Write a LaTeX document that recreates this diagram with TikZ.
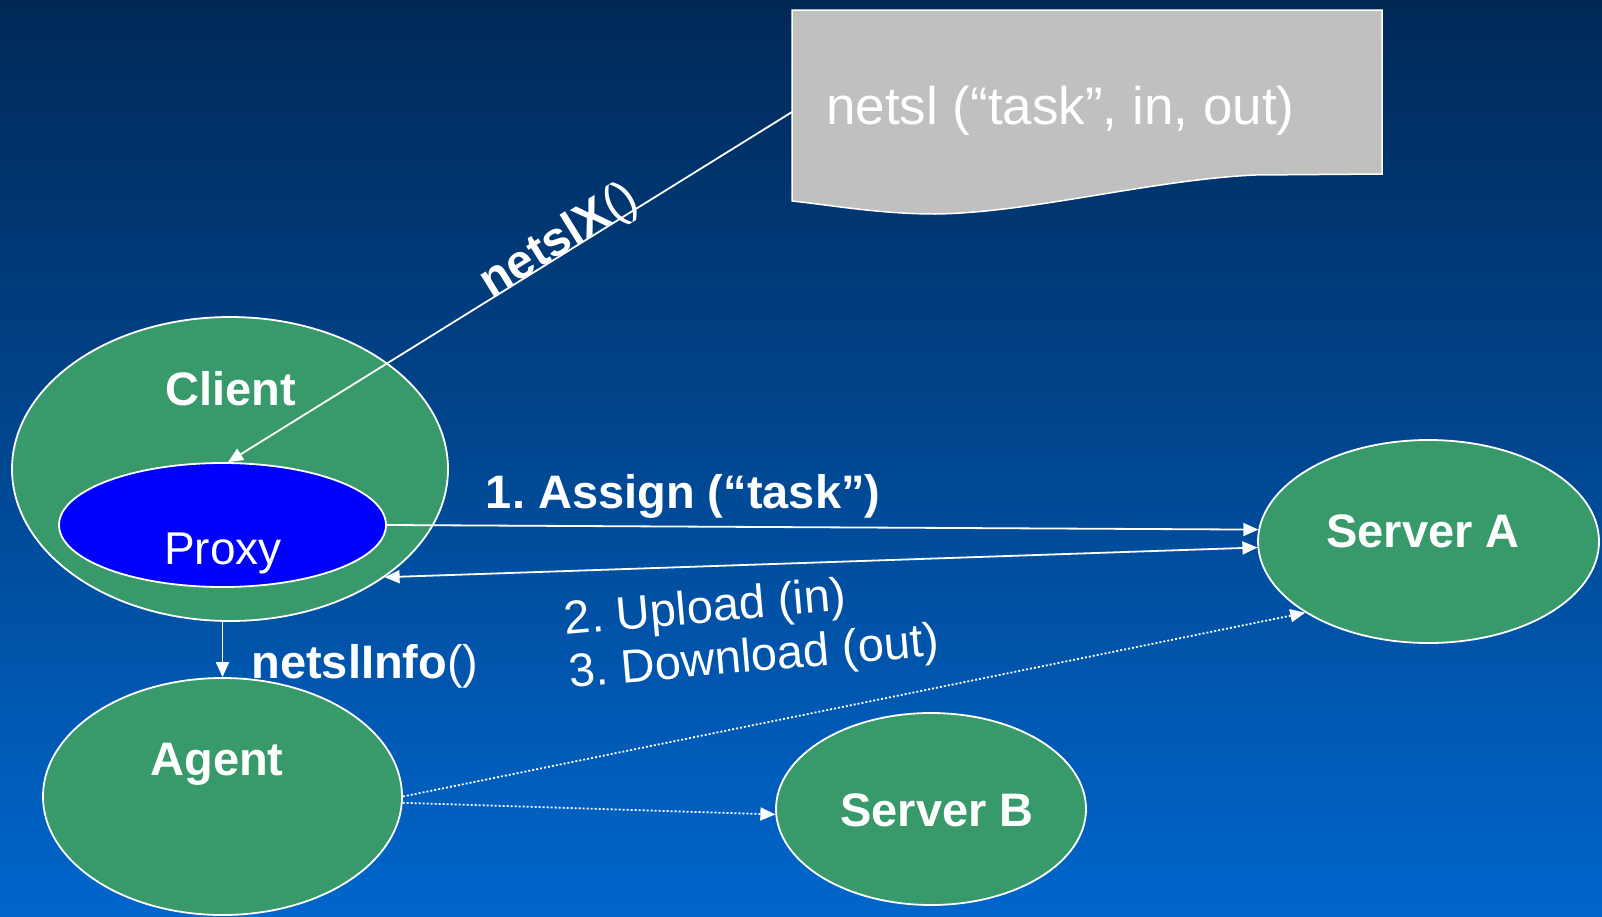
\documentclass[tikz,border=0pt]{standalone}
\usepackage{fontspec}
\setmainfont{Liberation Sans}
\usetikzlibrary{arrows.meta,shapes.geometric,positioning}
\definecolor{DeepNavy}{RGB}{0,40,86}
\definecolor{SlideBlue}{RGB}{0,102,204}
\definecolor{NodeGreen}{RGB}{56,154,106}
\definecolor{ProxyBlue}{RGB}{0,0,255}
\definecolor{NoteGray}{RGB}{192,192,192}
\frenchspacing

\begin{document}
\begin{tikzpicture}[x=1pt,y=-1pt,>={Triangle[length=15pt,width=13pt]},
    blob/.style={ellipse,draw=white,line width=1.8pt,fill=NodeGreen,inner sep=0pt},
    lbl/.style={text=white,inner sep=0pt,font=\fontsize{47}{53}\selectfont},
    lblb/.style={lbl,font=\fontsize{47}{53}\selectfont\bfseries},
    link/.style={draw=white,line width=1.8pt},
    dotline/.style={dash pattern=on 2pt off 2pt}]
      \shade[top color=DeepNavy,bottom color=SlideBlue] (0,0) rectangle (1602,916);
      \useasboundingbox (0,0) rectangle (1602,916);
      % call note
      \filldraw[fill=NoteGray,draw=white,line width=1.5pt] (792,10) -- (1382,10) -- (1382,174)
        -- (1255,175) .. controls (1150,180) and (1030,213) .. (935,214)
        .. controls (880,214) and (830,205) .. (792,201) -- cycle;
      \coordinate (noteW) at (792,112);
      \node[lbl,anchor=west,font=\fontsize{53}{60}\selectfont] (noteTxt) at (826,111) {netsl (“task”, in, out)};
      % ellipses
      \node[blob,minimum width=436pt,minimum height=304pt] (client) at (230,469) {};
      \node[blob,fill=ProxyBlue,minimum width=327pt,minimum height=124pt] (proxy) at (222.5,525) {};
      \node[blob,minimum width=359pt,minimum height=237pt] (agent) at (222.5,796.5) {};
      \node[blob,minimum width=341pt,minimum height=203pt] (srvA) at (1428.5,541.5) {};
      \node[blob,minimum width=310pt,minimum height=192pt] (srvB) at (931,809) {};
      \node[lblb] (clientTxt) at (231,389) {Client};
      \node[lbl,font=\fontsize{46}{52}\selectfont] (proxyTxt) at (223,553) {Proxy};
      \node[lblb] (agentTxt) at (217,764) {Agent};
      \node[lblb] (srvATxt) at (1423,531) {Server A};
      \node[lblb] (srvBTxt) at (937,810) {Server B};
      % connectors
      \draw[link,<-] (proxy.85) -- (noteW)
        node[lbl,font=\fontsize{48}{54}\selectfont,sloped,anchor=base,pos=0.6] (callLbl) {{\bfseries netslX}()};
      \draw[link,->] (proxy.east) -- (srvA.176)
        node[lblb,pos=0.34,above=7pt] (assignLbl) {1. Assign (“task”)};
      \draw[link,<->] (client.-35) -- (srvA.182);
      \node[lbl,rotate=5,align=left] (ioLbl) at (752,633) {2. Upload (in)\\3. Download (out)};
      \draw[link,->] (agent.north |- client.south) -- (agent.north)
        node[lbl,pos=0.81,right=28pt] (infoLbl) {{\bfseries netslInfo}()};
      \draw[link,dotline,->] (agent.east) -- (srvA.210);
      \draw[link,dotline,->] (agent.-2) -- (srvB.182);
    \end{tikzpicture}
\end{document}
